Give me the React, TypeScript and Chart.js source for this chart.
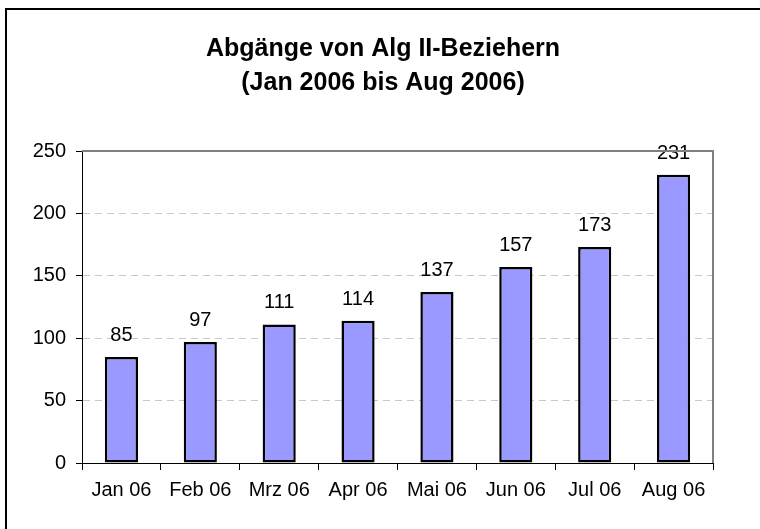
import React, { useEffect, useRef } from "react";
import { Chart, registerables } from "chart.js";

Chart.register(...registerables);

const categories = ["Jan 06", "Feb 06", "Mrz 06", "Apr 06", "Mai 06", "Jun 06", "Jul 06", "Aug 06"];
const values = [85, 97, 111, 114, 137, 157, 173, 231];
const titleLines = ["Abgänge von Alg II-Beziehern", "(Jan 2006 bis Aug 2006)"];
const yMin = 0;
const yMax = 250;
const yStep = 50;

const FONT = "'Liberation Sans', Arial, sans-serif";

export default function App() {
  const ref = useRef<HTMLCanvasElement | null>(null);

  useEffect(() => {
    if (!ref.current) return;

    const framePlugin = {
      id: "frame",
      beforeDraw(chart: any) {
        const { ctx, width, height } = chart;
        ctx.save();
        ctx.fillStyle = "#ffffff";
        ctx.fillRect(0, 0, width, height);
        ctx.restore();
      },
      afterDraw(chart: any) {
        const { ctx, chartArea } = chart;
        ctx.save();
        ctx.strokeStyle = "#808080";
        ctx.lineWidth = 2;
        ctx.beginPath();
        ctx.moveTo(chartArea.left, chartArea.top);
        ctx.lineTo(chartArea.right, chartArea.top);
        ctx.lineTo(chartArea.right, chartArea.bottom);
        ctx.stroke();
        ctx.strokeStyle = "#000000";
        ctx.lineWidth = 2;
        ctx.strokeRect(6, 9, 800, 600);
        ctx.fillStyle = "#000000";
        ctx.font = `bold 25px ${FONT}`;
        ctx.textAlign = "center";
        ctx.textBaseline = "alphabetic";
        ctx.fillText(titleLines[0], 383, 56);
        ctx.fillText(titleLines[1], 383, 90);
        ctx.restore();
      },
      afterDatasetsDraw(chart: any) {
        const { ctx } = chart;
        const meta = chart.getDatasetMeta(0);
        ctx.save();
        ctx.fillStyle = "#000000";
        ctx.font = `20px ${FONT}`;
        ctx.textAlign = "center";
        ctx.textBaseline = "alphabetic";
        meta.data.forEach((el: any, i: number) => {
          ctx.fillText(String(values[i]), el.x, el.y - 16);
        });
        ctx.restore();
      },
    };

    const chart = new Chart(ref.current, {
      type: "bar",
      data: {
        labels: categories,
        datasets: [
          {
            data: values,
            backgroundColor: "#9999FF",
            borderColor: "#000000",
            borderWidth: 2.5,
            borderSkipped: false,
            categoryPercentage: 1,
            barPercentage: 0.42,
          },
        ],
      },
      options: {
        responsive: false,
        animation: false,
        devicePixelRatio: 1,
        layout: { padding: { top: 151, left: 0, right: 47, bottom: 0 } },
        plugins: {
          legend: { display: false },
          title: { display: false },
          tooltip: { enabled: false },
        },
        scales: {
          x: {
            offset: true,
            afterFit(scale: any) {
              scale.height = 66;
            },
            grid: {
              offset: true,
              drawOnChartArea: false,
              drawTicks: true,
              tickLength: 7,
              tickColor: "#000000",
              lineWidth: 1,
            },
            border: { display: true, color: "#000000", width: 1 },
            ticks: {
              color: "#000000",
              font: { family: FONT, size: 20 },
              padding: 8,
              maxRotation: 0,
              autoSkip: false,
            },
          },
          y: {
            min: yMin,
            max: yMax,
            afterFit(scale: any) {
              scale.width = 82;
            },
            grid: {
              color: (c: any) =>
                c.tick && (c.tick.value === yMin || c.tick.value === yMax) ? "rgba(0,0,0,0)" : "#c8c8c8",
              lineWidth: 1,
              drawTicks: true,
              tickLength: 6,
              tickColor: "#000000",
              tickBorderDash: [],
            },
            border: { display: true, color: "#000000", width: 1, dash: [7, 5] },
            ticks: {
              stepSize: yStep,
              color: "#000000",
              font: { family: FONT, size: 20 },
              padding: 10,
            },
          },
        },
      },
      plugins: [framePlugin],
    });

    return () => chart.destroy();
  }, []);

  return (
    <div style={{ position: "absolute", left: 0, top: 0, width: 760, height: 529 }}>
      <canvas ref={ref} width={760} height={529} style={{ width: 760, height: 529, display: "block" }} />
    </div>
  );
}
